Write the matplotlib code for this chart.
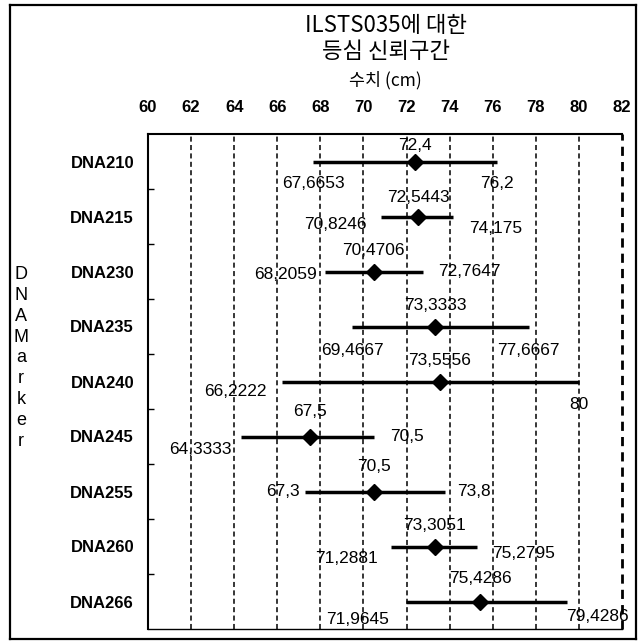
import numpy as np
import matplotlib
matplotlib.use("Agg")
import matplotlib.pyplot as plt

# 9 DNA markers, mean and confidence bounds (cm)
markers = ["DNA210", "DNA215", "DNA230", "DNA235", "DNA240",
           "DNA245", "DNA255", "DNA260", "DNA266"]
means = [72.4, 72.5443, 70.4706, 73.3333, 73.5556, 67.5, 70.5, 73.3051, 75.4286]
lows = [67.6653, 70.8246, 68.2059, 69.4667, 66.2222, 64.3333, 67.3, 71.2881, 71.9645]
highs = [76.2, 74.175, 72.7647, 77.6667, 80.0, 70.5, 73.8, 75.2795, 79.4286]
xticks = list(range(60, 83, 2))

# where the value labels sit (ha, dx px, dy px downward)
low_place = [("center", 0, 22), ("right", -15, 8), ("right", -8, 3),
             ("center", 0, 24), ("right", -15, 10), ("right", -10, 13),
             ("right", -6, 0), ("right", -13, 12), ("right", -17, 18)]
high_place = [("center", 0, 22), ("left", 16, 12), ("left", 15, 0),
              ("center", 0, 24), ("center", 0, 23), ("left", 16, 0),
              ("left", 12, 0), ("left", 15, 7), ("left", 0, 15)]
mean_dy = [-16, -19, -21, -21, -21, -25, -25, -21, -23]

KR = ["Noto Sans CJK KR", "DejaVu Sans"]
LAT = ["Liberation Sans", "DejaVu Sans"]


def fmt(v):
    return "{:g}".format(v).replace(".", ",")


W, H = 638, 643
fig = plt.figure(figsize=(W / 100, H / 100), dpi=100)

# outer frame around the whole chart (empty axes)
frame = fig.add_axes([10 / W, 1 - 639 / H, 626 / W, 634 / H], zorder=-1)
frame.set_xticks([])
frame.set_yticks([])
frame.patch.set_visible(False)
for s in frame.spines.values():
    s.set_linewidth(1.6)
    s.set_color("black")

ax = fig.add_axes([148 / W, 1 - 629 / H, (622 - 148) / W, (629 - 134) / H])
ax.patch.set_visible(False)

y = np.arange(len(markers))
ax.hlines(y, lows, highs, color="black", lw=2.5, zorder=3)
ax.plot(means, y, "D", color="black", ms=8, zorder=4)

for i in range(len(markers)):
    ax.annotate(fmt(means[i]), (means[i], y[i]), xytext=(0, -mean_dy[i]),
                textcoords="offset pixels", ha="center", va="center",
                fontsize=12.5, family=LAT, zorder=5)
    ha, dx, dy = low_place[i]
    ax.annotate(fmt(lows[i]), (lows[i], y[i]), xytext=(dx, -dy),
                textcoords="offset pixels", ha=ha, va="center",
                fontsize=12.5, family=LAT, zorder=5)
    ha, dx, dy = high_place[i]
    ax.annotate(fmt(highs[i]), (highs[i], y[i]), xytext=(dx, -dy),
                textcoords="offset pixels", ha=ha, va="center",
                fontsize=12.5, family=LAT, zorder=5)

# dashed vertical grid
for v in xticks[1:]:
    ax.axvline(v, color="black", lw=2.0 if v == 82 else 1.1,
               dashes=(3.3, 2.2), clip_on=(v != 82), zorder=1)

ax.set_xlim(60, 82)
ax.set_ylim(8.5, -0.5)
ax.xaxis.tick_top()
ax.set_xticks(xticks)
ax.tick_params(axis="x", length=0, pad=14, labelsize=12)
for t in ax.get_xticklabels():
    t.set_fontweight("bold")
    t.set_family(LAT)

ax.set_yticks(y, markers)
ax.set_yticks(y[:-1] + 0.5, minor=True)
ax.tick_params(axis="y", which="major", length=0, pad=10, labelsize=12)
ax.tick_params(axis="y", which="minor", length=4, width=1, direction="in")
for t in ax.get_yticklabels():
    t.set_fontweight("bold")
    t.set_family(LAT)

ax.xaxis.set_label_position("top")
ax.set_xlabel("수치 (cm)", fontsize=12.5, family=KR, labelpad=10)

ax.spines["right"].set_visible(False)
ax.spines["top"].set_linewidth(1.5)
ax.spines["left"].set_linewidth(1.5)
ax.spines["bottom"].set_linewidth(1.0)

fig.text(386 / W, 1 - 25 / H, "ILSTS035에 대한", ha="center", va="center",
         fontsize=16, family=KR)
fig.text(386 / W, 1 - 51 / H, "등심 신뢰구간", ha="center", va="center",
         fontsize=16, family=KR)
fig.text(21 / W, 1 - 358 / H, "\n".join("DNAMarker"), ha="center", va="center",
         fontsize=13, linespacing=1.3, family=LAT)

fig.savefig("out.png", dpi=100)
